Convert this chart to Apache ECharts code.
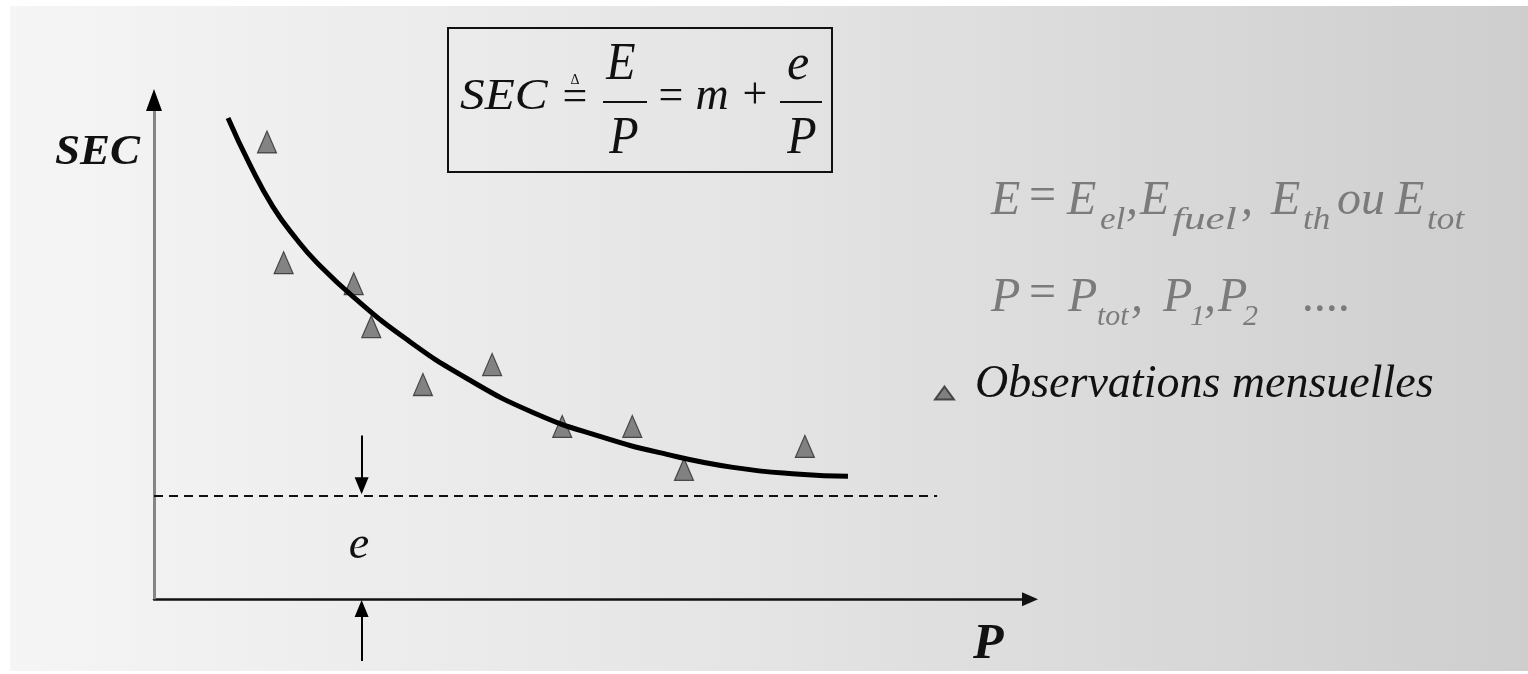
<!DOCTYPE html>
<html>
<head>
<meta charset="utf-8">
<script src="https://cdn.jsdelivr.net/npm/echarts@6/dist/echarts.min.js"></script>
<style>
html,body{margin:0;padding:0;background:#fff;}
#c{width:1528px;height:674px;}
</style>
</head>
<body>
<div id="c"></div>
<script>
// ---- data (arbitrary units: P 0..100, SEC 0..100) ----
const obsP   = [12.9, 14.8, 22.8, 24.8, 30.7, 38.6, 46.6, 54.6, 60.5, 74.3];
const obsSEC = [91.6, 67.4, 63.2, 54.6, 43.0, 47.0, 34.6, 34.6, 26.0, 30.6];
const fitP   = [8.45, 10.96, 13.58, 16.32, 18.61, 22.72, 28.88, 35.73, 43.26, 50.91, 58.56, 66.10, 73.74, 79.22];
const fitSEC = [96.4, 87.0, 78.6, 72.0, 67.4, 60.6, 52.0, 44.2, 37.4, 32.6, 29.0, 26.4, 25.0, 24.6];
const eLevel = 20.8;          // asymptote e
const eLineEnd = 89.4;        // end of the dashed line
const eMarkP = 23.7;          // position of the e arrows
const downArrow = [32.8, 22.7];
const upArrow = [-12.4, -1.9];
const seriesName = 'Observations mensuelles';

const FF = '"Liberation Serif"';
function txt(text, x, y, size, o) {
  o = o || {};
  return {
    type: 'text', x: x, y: y, z: 10, silent: true,
    scaleX: o.sx || 1, scaleY: o.sy || 1,
    style: {
      text: text,
      font: (o.upright ? 'normal' : 'italic') + ' ' + (o.bold ? 'bold' : 'normal') + ' ' + size + 'px ' + FF,
      fill: o.color || '#111',
      textAlign: o.align || 'left', align: o.align || 'left',
      textVerticalAlign: 'middle', verticalAlign: 'middle'
    }
  };
}
function hline(x1, x2, y) {
  return { type: 'line', z: 10, silent: true, shape: { x1: x1, y1: y, x2: x2, y2: y }, style: { stroke: '#111', lineWidth: 2 } };
}

const GRAY = '#7b7b7b';
function pieces(list, yMain, ySub, subSize, subScale, color) {
  return list.map(function (p) {
    const kind = p[2];
    if (kind === 'sub') return txt(p[0], p[1], ySub, subSize, { color: color, sx: p[3] || subScale });
    if (kind === 'op') return txt(p[0], p[1], yMain - 4, 48, { color: color, upright: true });
    return txt(p[0], p[1], yMain, 48, { color: color });
  });
}
const line1 = [['E', 991], ['=', 1029, 'op'], ['E', 1067], ['el', 1100, 'sub'], [',', 1126], ['E', 1140], ['fuel', 1172, 'sub', 1.35],
  [',', 1241], ['E', 1271], ['th', 1303, 'sub'], ['ou', 1337], ['E', 1395], ['tot', 1427, 'sub']];
const line2 = [['P', 991], ['=', 1029, 'op'], ['P', 1068], ['tot', 1097, 'sub'], [',', 1131], ['P', 1163], ['1', 1190, 'sub'],
  [',', 1204], ['P', 1218], ['2', 1243, 'sub'], ['....', 1303]];

const graphics = [
  { type: 'rect', z: -10, silent: true, shape: { x: 10, y: 6, width: 1518, height: 665 },
    style: { fill: { type: 'linear', x: 0, y: 0, x2: 1, y2: 0,
      colorStops: [{ offset: 0, color: '#f5f5f5' }, { offset: 0.5, color: '#e4e4e4' }, { offset: 1, color: '#cecece' }] } } },
  // formula box
  { type: 'rect', z: 10, silent: true, shape: { x: 448, y: 28, width: 384, height: 144 }, style: { fill: 'none', stroke: '#111', lineWidth: 2 } },
  txt('SEC', 460, 97.5, 44, { sx: 1.12 }),
  txt('\u0394', 575, 80, 14, { upright: true, align: 'center' }),
  txt('=', 575, 98, 44, { upright: true, align: 'center' }),
  txt('E', 621, 65, 48, { align: 'center', sy: 1.1 }),
  hline(603, 647, 102),
  txt('P', 624, 139, 48, { align: 'center', sy: 1.1 }),
  txt('=', 671, 97, 44, { upright: true, align: 'center' }),
  txt('m', 712, 97, 46, { align: 'center' }),
  txt('+', 755, 96, 44, { upright: true, align: 'center' }),
  txt('e', 798, 66, 50, { align: 'center' }),
  hline(780, 822, 102),
  txt('P', 802, 139, 48, { align: 'center', sy: 1.1 }),
  // axis names and e label
  txt('SEC', 55, 153.5, 42, { bold: true, sx: 1.07 }),
  txt('P', 973, 645, 50, { bold: true }),
  txt('e', 359, 545.5, 46, { align: 'center' })
].concat(pieces(line1, 201, 221, 32, 1.1, GRAY), pieces(line2, 298, 317, 30, 1, GRAY));

const chart = echarts.init(document.getElementById('c'), null, { renderer: 'canvas' });
chart.setOption({
  animation: false,
  backgroundColor: '#ffffff',
  grid: { left: 154, top: 100, width: 876, height: 575 },
  legend: {
    data: [seriesName], left: 929, top: 357, itemWidth: 19, itemHeight: 13, icon: 'triangle', selectedMode: false,
    formatter: '{t|{name}}',
    textStyle: {
      fontFamily: 'Liberation Serif', fontStyle: 'italic', fontSize: 46, color: '#111',
      rich: { t: { fontFamily: 'Liberation Serif', fontStyle: 'italic', fontSize: 46, color: '#111', padding: [0, 0, 16, 16] } }
    }
  },
  xAxis: {
    type: 'value', min: 0, max: 100,
    axisLine: { show: true, onZero: true, lineStyle: { color: '#111', width: 2.5 }, symbol: ['none', 'triangle'], symbolSize: [14, 16] },
    axisTick: { show: false }, axisLabel: { show: false }, splitLine: { show: false }
  },
  yAxis: {
    type: 'value', min: -15, max: 100,
    axisLine: { show: false }, axisTick: { show: false }, axisLabel: { show: false }, splitLine: { show: false }
  },
  graphic: graphics,
  series: [
    {
      name: seriesName, type: 'scatter', z: 2,
      data: obsP.map(function (p, i) { return [p, obsSEC[i]]; }),
      symbol: 'triangle', symbolSize: [19, 22],
      itemStyle: { color: '#686868', borderColor: '#2a2a2a', borderWidth: 1.2 }
    },
    {
      name: 'fit', type: 'line', z: 3, smooth: 0.5, symbol: 'none', clip: false,
      data: fitP.map(function (p, i) { return [p, fitSEC[i]]; }),
      lineStyle: { color: '#000', width: 5 },
      markLine: {
        silent: true, symbol: 'none', label: { show: false }, animation: false,
        data: [
          [{ coord: [0, 0], lineStyle: { color: '#858585', width: 3, type: 'solid' } }, { coord: [0, 100] }],
          [{ coord: [0, eLevel], lineStyle: { color: '#111', width: 2, type: [9, 6] } }, { coord: [eLineEnd, eLevel] }],
          [{ coord: [eMarkP, downArrow[0]], lineStyle: { color: '#000', width: 2, type: 'solid' } },
           { coord: [eMarkP, downArrow[1]], symbol: 'triangle', symbolSize: [14, 17] }],
          [{ coord: [eMarkP, upArrow[0]], lineStyle: { color: '#000', width: 2, type: 'solid' } },
           { coord: [eMarkP, upArrow[1]], symbol: 'triangle', symbolSize: [14, 17] }]
        ]
      },
      markPoint: {
        silent: true, label: { show: false }, animation: false,
        data: [{ coord: [0, 100], symbol: 'triangle', symbolSize: [16, 22], itemStyle: { color: '#000' } }]
      }
    }
  ]
});
</script>
</body>
</html>
